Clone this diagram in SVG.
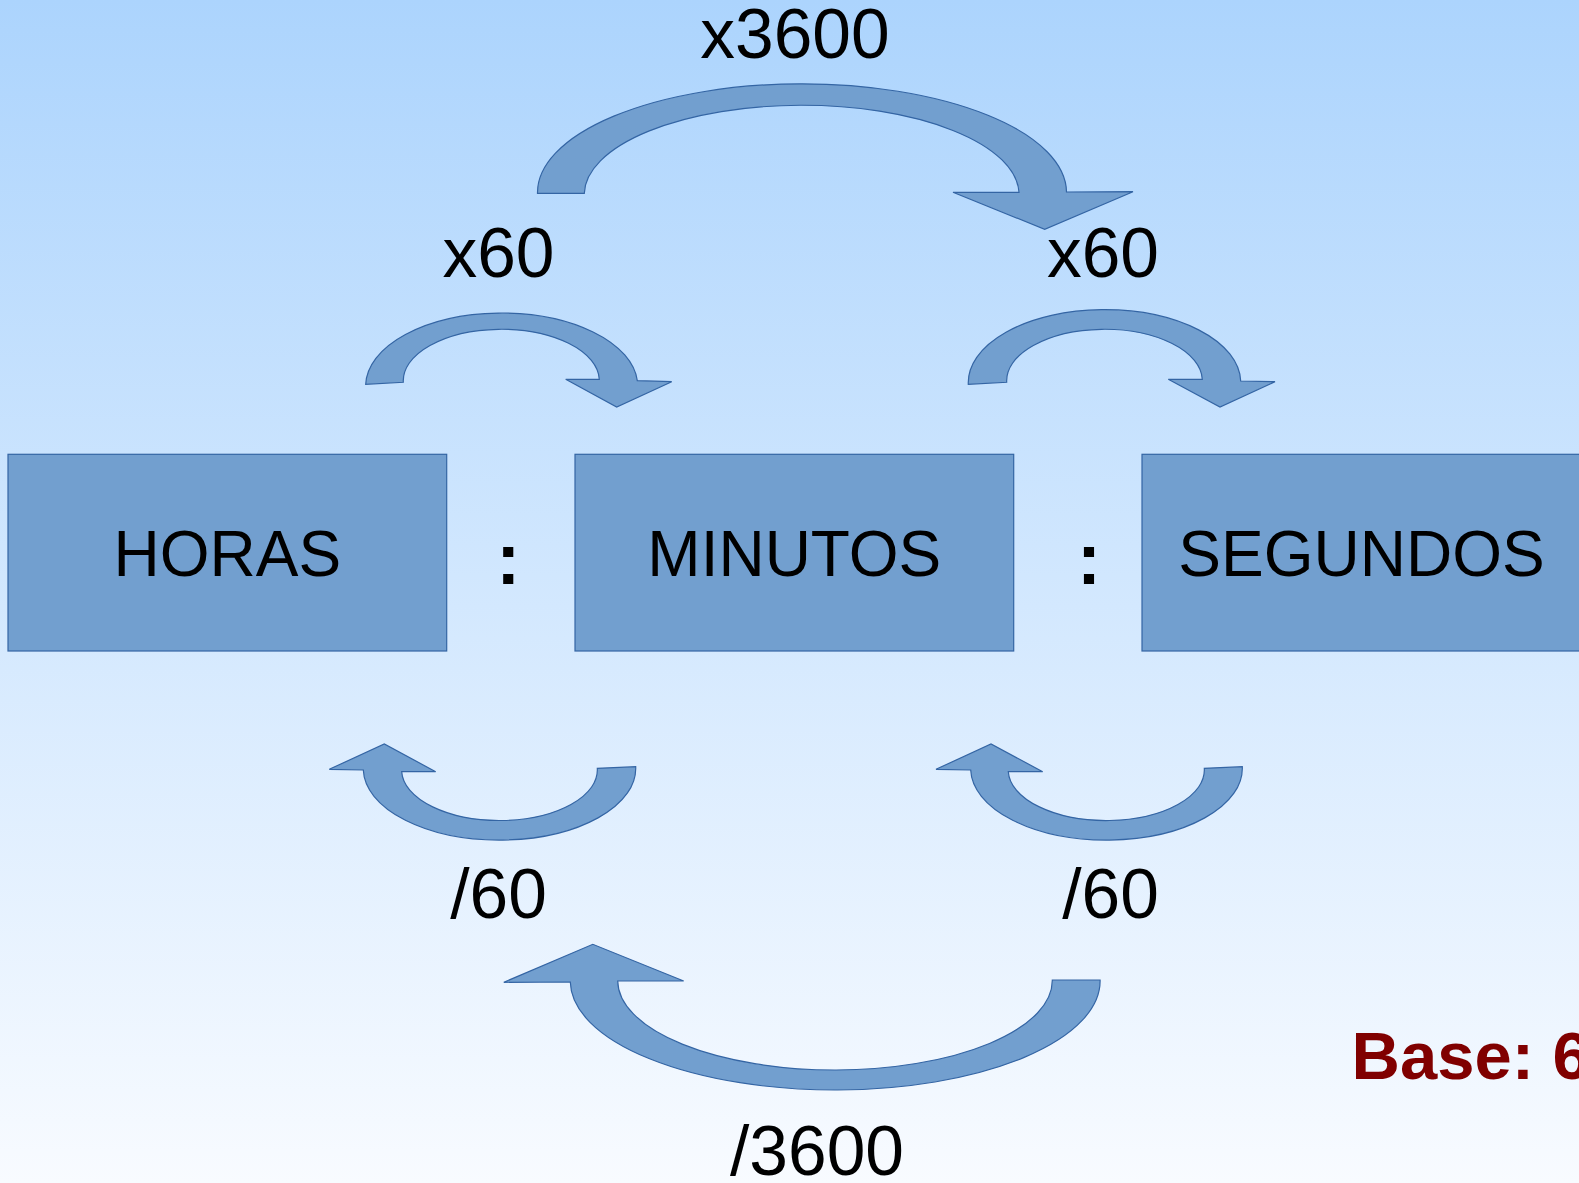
<svg xmlns="http://www.w3.org/2000/svg" width="1579" height="1183" viewBox="0 0 1579 1183">
  <defs>
    <linearGradient id="bg" x1="0" y1="0" x2="0" y2="1">
      <stop offset="0" stop-color="#acd4fd"/>
      <stop offset="1" stop-color="#f8fbff"/>
    </linearGradient>
    <style>
      .box { fill: #729fcf; stroke: #3465a4; stroke-width: 1.2; }
      .arrow { fill: #729fcf; stroke: #3465a4; stroke-width: 1.2; stroke-linejoin: miter; }
      .unit { font-family: "Liberation Sans", Arial, sans-serif; font-size: 64px; fill: #000; text-anchor: middle; }
      .op { font-family: "Liberation Sans", Arial, sans-serif; font-size: 69.5px; fill: #000; text-anchor: middle; }
      .sep { font-family: "Liberation Sans", Arial, sans-serif; font-size: 72px; font-weight: bold; fill: #000; text-anchor: middle; }
      .base { font-family: "Liberation Sans", Arial, sans-serif; font-size: 67px; font-weight: bold; fill: #800000; }
    </style>
  </defs>

  <!-- background -->
  <rect x="0" y="0" width="1579" height="1183" fill="url(#bg)"/>

  <!-- time unit boxes -->
  <g id="horas">
    <rect class="box" x="8" y="454.3" width="438.7" height="196.7"/>
    <text class="unit" x="227.3" y="576">HORAS</text>
  </g>
  <g id="minutos">
    <rect class="box" x="575" y="454.3" width="438.7" height="196.7"/>
    <text class="unit" x="794.3" y="576">MINUTOS</text>
  </g>
  <g id="segundos">
    <rect class="box" x="1142" y="454.3" width="438.7" height="196.7"/>
    <text class="unit" x="1361.5" y="576">SEGUNDOS</text>
  </g>

  <!-- separators -->
  <g id="sep1"><text class="sep" x="508.3" y="584.3">:</text></g>
  <g id="sep2"><text class="sep" x="1089" y="584.3">:</text></g>

  <!-- curved conversion arrows -->
  <g id="connectors">
    <!-- horas -> minutos (x60) -->
    <path class="arrow" d="M 365.7 384.3 A 136 73 0 0 1 637.3 380.7 L 671.7 381.7 L 616.7 407 L 565.7 379.3 L 599.3 379.3 A 98 51.5 0 0 0 403.3 382.3 Z"/>
    <!-- minutos -> segundos (x60) -->
    <path class="arrow" d="M 968.3 384.3 A 136.2 73 0 0 1 1240.7 381 L 1275 381.7 L 1220 407 L 1168.3 379.3 L 1202.3 379.3 A 97.8 51.5 0 0 0 1006.7 382.3 Z"/>
    <!-- horas -> segundos (x3600) -->
    <path class="arrow" d="M 537.5 193.3 A 264.5 108.8 0 0 1 1066.5 192 L 1133 191.7 L 1044.7 229.3 L 953 192.3 L 1019 192.3 A 217.4 89.4 0 0 0 584.3 193.3 Z"/>
    <!-- minutos -> horas (/60) -->
    <path class="arrow" d="M 363.3 770 L 329.3 769.3 L 384.3 744 L 435.7 771.7 L 401.7 771.7 A 97.8 50.5 0 0 0 597.3 768.3 L 635.7 766.7 A 136.2 71.7 0 0 1 363.3 770 Z"/>
    <!-- segundos -> minutos (/60) -->
    <path class="arrow" d="M 970.7 770 L 936 769.3 L 991 744 L 1042.7 771.7 L 1008.3 771.7 A 98 50.5 0 0 0 1204.3 768.3 L 1242.3 766.7 A 135.8 71.7 0 0 1 970.7 770 Z"/>
    <!-- segundos -> horas (/3600) -->
    <path class="arrow" d="M 570.3 982 L 503.8 982.3 L 592.8 944.3 L 683.7 981 L 617.7 981 A 217.3 89.5 0 0 0 1052.3 980 L 1100.1 980 A 264.9 109 0 0 1 570.3 982 Z"/>
  </g>

  <!-- factor labels -->
  <g id="labels">
    <text class="op" x="795" y="58.4">x3600</text>
    <text class="op" x="498.5" y="277">x60</text>
    <text class="op" x="1103" y="277">x60</text>
    <text class="op" x="498.5" y="918.4">/60</text>
    <text class="op" x="1110.5" y="918.4">/60</text>
    <text class="op" x="817" y="1175.2">/3600</text>
  </g>

  <g id="base">
    <text class="base" x="1351.5" y="1079">Base: 6</text>
  </g>
</svg>
